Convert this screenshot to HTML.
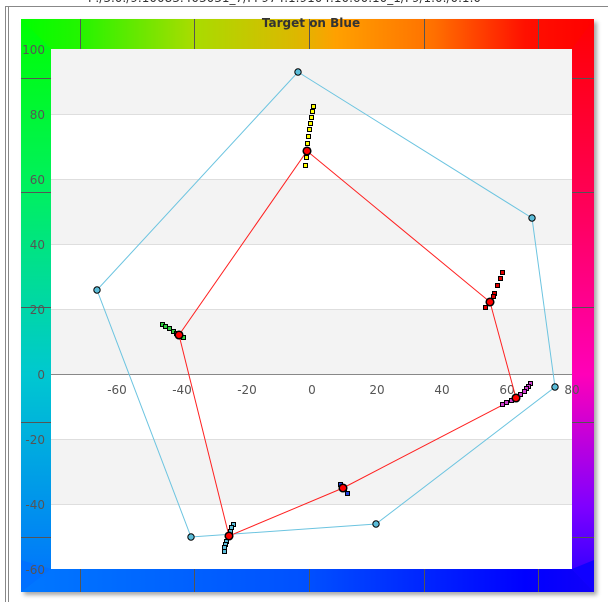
<!DOCTYPE html>
<html><head><meta charset="utf-8"><style>
html,body{margin:0;padding:0;background:#fff;width:608px;height:602px;overflow:hidden}
svg{display:block}
text{font-family:"DejaVu Sans","Liberation Sans",sans-serif}
</style></head><body>
<svg width="608" height="602" viewBox="0 0 608 602" xmlns="http://www.w3.org/2000/svg">
<defs>
<linearGradient id="gt" x1="21" y1="0" x2="594" y2="0" gradientUnits="userSpaceOnUse">
<stop offset="0" stop-color="#00ff00"/><stop offset="0.1" stop-color="#22f500"/><stop offset="0.3" stop-color="#a8dc00"/><stop offset="0.48" stop-color="#dcb800"/><stop offset="0.55" stop-color="#ffa000"/><stop offset="0.72" stop-color="#ff7000"/><stop offset="0.88" stop-color="#ff1000"/><stop offset="1" stop-color="#ff0000"/></linearGradient>
<linearGradient id="gl" x1="0" y1="19" x2="0" y2="592" gradientUnits="userSpaceOnUse">
<stop offset="0" stop-color="#00ff00"/><stop offset="0.3" stop-color="#00f060"/><stop offset="0.62" stop-color="#00c8d0"/><stop offset="1" stop-color="#0070ff"/></linearGradient>
<linearGradient id="gr" x1="0" y1="19" x2="0" y2="592" gradientUnits="userSpaceOnUse">
<stop offset="0" stop-color="#ff0000"/><stop offset="0.35" stop-color="#ff0060"/><stop offset="0.62" stop-color="#ff00b8"/><stop offset="0.85" stop-color="#8000ff"/><stop offset="1" stop-color="#2000ff"/></linearGradient>
<linearGradient id="gb" x1="21" y1="0" x2="594" y2="0" gradientUnits="userSpaceOnUse">
<stop offset="0" stop-color="#0078ff"/><stop offset="0.5" stop-color="#0050ff"/><stop offset="0.88" stop-color="#0000ff"/><stop offset="1" stop-color="#1000f8"/></linearGradient>
<filter id="sh" x="-5%" y="-5%" width="110%" height="110%"><feDropShadow dx="3" dy="3" stdDeviation="2" flood-color="#000" flood-opacity="0.35"/></filter>
</defs>
<text x="88" y="2" font-size="12" fill="#333" font-family="'DejaVu Sans Mono',monospace">P:/3.0./9.10083.403031_7/FP974.1.9104.10.60.10_1/F9/1.0./0.1.0</text>
<line x1="5.5" y1="6" x2="5.5" y2="602" stroke="#888"/>
<line x1="8.5" y1="6" x2="8.5" y2="602" stroke="#888"/>
<line x1="5" y1="6.5" x2="608" y2="6.5" stroke="#888"/>
<g filter="url(#sh)">
<rect x="21" y="19" width="573" height="573" fill="url(#gl)"/>
</g>
<rect x="21" y="19" width="30" height="573" fill="url(#gl)"/>
<rect x="572" y="19" width="22" height="573" fill="url(#gr)"/>
<polygon points="21,19 594,19 572,49 51,49" fill="url(#gt)"/>
<rect x="51" y="19" width="521" height="30" fill="url(#gt)"/>
<polygon points="51,569 572,569 594,592 21,592" fill="url(#gb)"/>
<rect x="51" y="569" width="521" height="23" fill="url(#gb)"/>
<polygon points="21,592 21,560 51,569" fill="#0070ff"/>
<polygon points="594,592 594,560 572,569" fill="#1000ff"/>
<g stroke="#555" stroke-width="1">
<line x1="80.5" y1="19" x2="80.5" y2="49"/><line x1="194.5" y1="19" x2="194.5" y2="49"/><line x1="309.5" y1="19" x2="309.5" y2="49"/><line x1="424.5" y1="19" x2="424.5" y2="49"/><line x1="538.5" y1="19" x2="538.5" y2="49"/>
<line x1="80.5" y1="569" x2="80.5" y2="592"/><line x1="194.5" y1="569" x2="194.5" y2="592"/><line x1="309.5" y1="569" x2="309.5" y2="592"/><line x1="424.5" y1="569" x2="424.5" y2="592"/><line x1="538.5" y1="569" x2="538.5" y2="592"/>
<line x1="21" y1="78.5" x2="51" y2="78.5"/><line x1="21" y1="192.5" x2="51" y2="192.5"/><line x1="21" y1="307.5" x2="51" y2="307.5"/><line x1="21" y1="422.5" x2="51" y2="422.5"/><line x1="21" y1="537.5" x2="51" y2="537.5"/>
<line x1="572" y1="78.5" x2="594" y2="78.5"/><line x1="572" y1="192.5" x2="594" y2="192.5"/><line x1="572" y1="307.5" x2="594" y2="307.5"/><line x1="572" y1="422.5" x2="594" y2="422.5"/><line x1="572" y1="537.5" x2="594" y2="537.5"/>
</g>
<rect x="51" y="49" width="521" height="520" fill="#fff"/>
<g fill="#f3f3f3">
<rect x="51" y="49" width="521" height="65"/>
<rect x="51" y="179" width="521" height="65"/>
<rect x="51" y="309" width="521" height="65"/>
<rect x="51" y="439" width="521" height="65"/>
</g>
<g stroke="#dedede">
<line x1="51" y1="114.5" x2="572" y2="114.5"/><line x1="51" y1="179.5" x2="572" y2="179.5"/><line x1="51" y1="244.5" x2="572" y2="244.5"/><line x1="51" y1="309.5" x2="572" y2="309.5"/><line x1="51" y1="439.5" x2="572" y2="439.5"/><line x1="51" y1="504.5" x2="572" y2="504.5"/>
</g>
<line x1="51" y1="374.5" x2="572" y2="374.5" stroke="#888"/>
<g font-size="12" fill="#555" text-anchor="end">
<text x="45" y="54">100</text><text x="45" y="119">80</text><text x="45" y="184">60</text><text x="45" y="249">40</text><text x="45" y="314">20</text><text x="45" y="379">0</text><text x="45" y="444">-20</text><text x="45" y="509">-40</text><text x="45" y="574">-60</text>
</g>
<g font-size="12" fill="#555" text-anchor="middle">
<text x="117" y="394">-60</text><text x="182" y="394">-40</text><text x="247" y="394">-20</text><text x="312" y="394">0</text><text x="377" y="394">20</text><text x="442" y="394">40</text><text x="507" y="394">60</text><text x="572" y="394">80</text>
</g>
<text x="311" y="27" font-size="12" font-weight="bold" fill="#333" text-anchor="middle" font-family="'DejaVu Sans Mono','Liberation Mono',monospace">Target on Blue</text>
<polygon points="298,72 532,218 555,387 376,524 191,537 97,290" fill="none" stroke="#6cc4e0" stroke-width="1"/>
<polygon points="307,151 490,302 516,398 343,488 229,536 179,335" fill="none" stroke="#ff2020" stroke-width="1"/>
<g fill="#5bbcd8" stroke="#000" stroke-width="1">
<circle cx="298" cy="72" r="3.2"/><circle cx="532" cy="218" r="3.2"/><circle cx="555" cy="387" r="3.2"/><circle cx="376" cy="524" r="3.2"/><circle cx="191" cy="537" r="3.2"/><circle cx="97" cy="290" r="3.2"/>
</g>
<g stroke="#000" stroke-width="1">
<g fill="#ffff00">
<rect x="311.5" y="104.5" width="4" height="4"/><rect x="310.5" y="109.5" width="4" height="4"/><rect x="309.5" y="115.5" width="4" height="4"/><rect x="308.5" y="121.5" width="4" height="4"/><rect x="307.5" y="127.5" width="4" height="4"/><rect x="306.5" y="134.5" width="4" height="4"/><rect x="305.5" y="141.5" width="4" height="4"/><rect x="304.5" y="149.5" width="4" height="4"/><rect x="304.5" y="155.5" width="4" height="4"/><rect x="303.5" y="163.5" width="4" height="4"/>
</g>
<g fill="#30d040">
<rect x="160.5" y="322.5" width="4" height="4"/><rect x="163.5" y="324.5" width="4" height="4"/><rect x="167.5" y="326.5" width="4" height="4"/><rect x="171.5" y="329.5" width="4" height="4"/><rect x="174.5" y="331.5" width="4" height="4"/><rect x="181.5" y="335.5" width="4" height="4"/>
</g>
<g fill="#e00000">
<rect x="500.5" y="270.5" width="4" height="4"/><rect x="498.5" y="276.5" width="4" height="4"/><rect x="495.5" y="283.5" width="4" height="4"/><rect x="492.5" y="291.5" width="4" height="4"/><rect x="491.5" y="294.5" width="4" height="4"/><rect x="483.5" y="305.5" width="4" height="4"/>
</g>
<g fill="#d040d0">
<rect x="528.5" y="381.5" width="4" height="4"/><rect x="526.5" y="384.5" width="4" height="4"/><rect x="524.5" y="386.5" width="4" height="4"/><rect x="522.5" y="389.5" width="4" height="4"/><rect x="518.5" y="392.5" width="4" height="4"/><rect x="509.5" y="398.5" width="4" height="4"/><rect x="504.5" y="400.5" width="4" height="4"/><rect x="500.5" y="402.5" width="4" height="4"/>
</g>
<g fill="#5bbcd8">
<rect x="231.5" y="522.5" width="4" height="4"/><rect x="229.5" y="525.5" width="4" height="4"/><rect x="228.5" y="529.5" width="4" height="4"/><rect x="224.5" y="539.5" width="4" height="4"/><rect x="223.5" y="542.5" width="4" height="4"/><rect x="222.5" y="545.5" width="4" height="4"/><rect x="222.5" y="549.5" width="4" height="4"/>
</g>
<g fill="#2040e0">
<rect x="338.5" y="482.5" width="4" height="4"/><rect x="342.5" y="487.5" width="4" height="4"/><rect x="345.5" y="491.5" width="4" height="4"/>
</g>
<g fill="#ff0000" stroke-width="1.5">
<circle cx="307" cy="151" r="3.8"/><circle cx="490" cy="302" r="3.8"/><circle cx="516" cy="398" r="3.8"/><circle cx="343" cy="488" r="3.8"/><circle cx="229" cy="536" r="3.8"/><circle cx="179" cy="335" r="3.8"/>
</g>
</g>
</svg>
</body></html>
